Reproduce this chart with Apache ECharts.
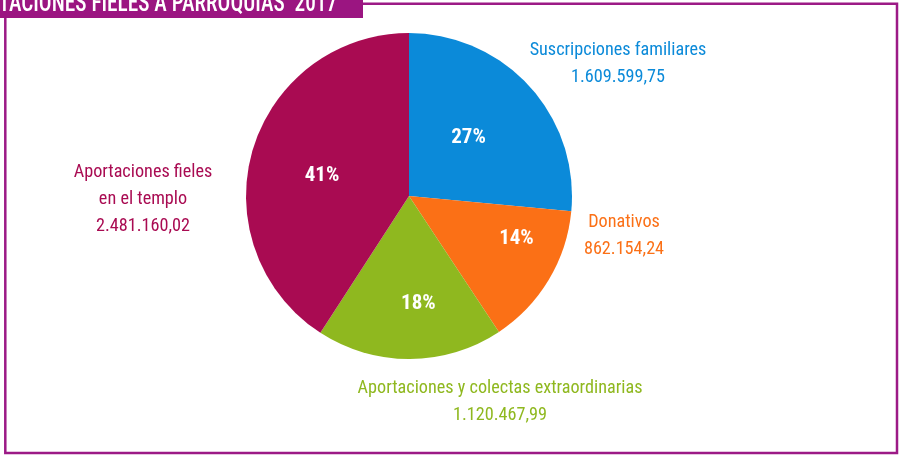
<!DOCTYPE html>
<html>
<head>
<meta charset="utf-8">
<script src="https://cdn.jsdelivr.net/npm/echarts@6/dist/echarts.min.js"></script>
<style>
html,body{margin:0;padding:0;background:#fff;}
#chart{width:902px;height:456px;}
</style>
</head>
<body>
<div id="chart"></div>
<script>
const titleText = 'APORTACIONES FIELES A PARROQUIAS  2017';
const categories = ['Suscripciones familiares', 'Donativos', 'Aportaciones y colectas extraordinarias', 'Aportaciones fieles\nen el templo'];
const values = [1609599.75, 862154.24, 1120467.99, 2481160.02];
const valueLabels = ['1.609.599,75', '862.154,24', '1.120.467,99', '2.481.160,02'];
const colors = ['#0b8ad9', '#fb7016', '#8fb81f', '#a90b52'];

// label layout (styling only)
const pctOffsets = [[-3, -1], [35, -1], [9, 23], [-6, 4]];
const outerPos = [[618, 64], [624, 236], [500, 402], [143, 199]];

const FONT = '"Liberation Sans Narrow", "Roboto Condensed", "Open Sans Condensed", "Noto Sans Condensed", "DejaVu Sans Condensed", sans-serif';
const total = values.reduce((a, b) => a + b, 0);

const pieData = categories.map((c, i) => ({ name: c, value: values[i], itemStyle: { color: colors[i] } }));

const chart = echarts.init(document.getElementById('chart'), null, { renderer: 'canvas' });
chart.setOption({
  animation: false,
  graphic: [
    { type: 'rect', shape: { x: 5.3, y: 3.8, width: 891.7, height: 449.2 }, style: { fill: 'none', stroke: '#9c1a86', lineWidth: 2.5 }, z: 1 },
    { type: 'rect', shape: { x: 0, y: 0, width: 363, height: 18 }, style: { fill: '#9b1581' }, z: 2 },
    { type: 'text', x: 337, y: 17, scaleX: 0.85, style: { text: titleText, fill: '#fff', font: '500 25px ' + FONT, textAlign: 'right', textVerticalAlign: 'bottom' }, z: 3 }
  ],
  series: [
    {
      type: 'pie',
      center: [409, 196],
      radius: ['0%', 163],
      startAngle: 90,
      clockwise: true,
      silent: true,
      data: pieData,
      label: {
        show: true,
        position: 'inside',
        formatter: p => Math.round(p.value / total * 100) + '%',
        color: '#fff',
        fontFamily: FONT,
        fontWeight: 'bold',
        fontSize: 21
      },
      labelLine: { show: false },
      labelLayout: p => ({ dx: pctOffsets[p.dataIndex][0], dy: pctOffsets[p.dataIndex][1] })
    },
    {
      type: 'pie',
      center: [409, 196],
      radius: ['0%', 163],
      startAngle: 90,
      clockwise: true,
      silent: true,
      z: 3,
      data: categories.map((c, i) => ({ name: c, value: values[i], itemStyle: { color: 'rgba(0,0,0,0)' }, label: { color: colors[i] } })),
      label: {
        show: true,
        position: 'outside',
        formatter: p => p.name + '\n' + valueLabels[p.dataIndex],
        fontFamily: FONT,
        fontSize: 18.2,
        lineHeight: 27,
        align: 'center'
      },
      labelLine: { show: false },
      labelLayout: p => ({ x: outerPos[p.dataIndex][0], y: outerPos[p.dataIndex][1], align: 'center', verticalAlign: 'middle' })
    }
  ]
});
</script>
</body>
</html>
